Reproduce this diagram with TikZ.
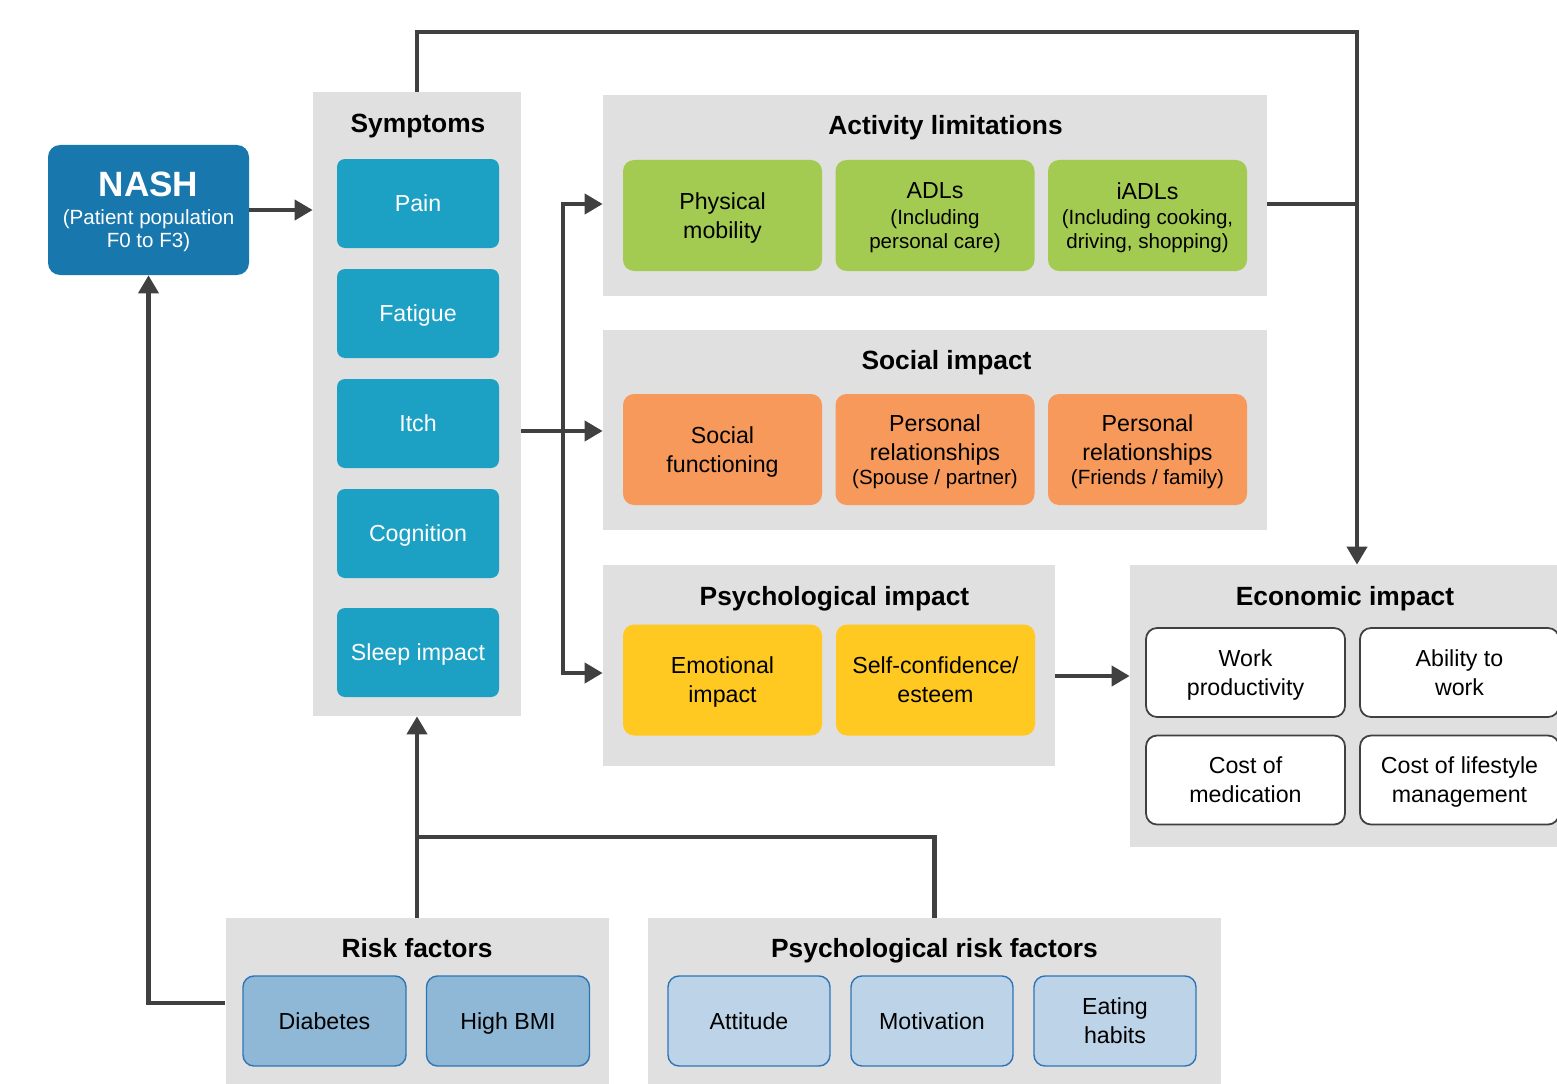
\documentclass[tikz,border=0pt]{standalone}
\usepackage{fontspec}
\setmainfont{Liberation Sans}
\usetikzlibrary{arrows.meta,positioning}

\definecolor{panelgray}{HTML}{E0E0E0}
\definecolor{nashblue}{HTML}{1877AD}
\definecolor{sympblue}{HTML}{1CA0C4}
\definecolor{actgreen}{HTML}{A3CB51}
\definecolor{socorange}{HTML}{F6995B}
\definecolor{psyyellow}{HTML}{FFC922}
\definecolor{riskblue}{HTML}{8FB8D6}
\definecolor{risklight}{HTML}{BDD4E8}
\definecolor{edgeblue}{HTML}{2E75B6}
\definecolor{arrowgray}{HTML}{404040}

\newcommand{\subtxt}[1]{{\fontsize{11.7}{14.2}\selectfont #1}}

\begin{document}
\begin{tikzpicture}[>={Triangle[length=3.6mm,width=4mm]},
    panel/.style={fill=panelgray,inner sep=0pt},
    paneltitle/.style={font=\bfseries\fontsize{15}{18}\selectfont,text depth=0pt},
    box/.style={rounded corners=0.22cm,minimum width=3.98cm,minimum height=2.22cm,
      align=center,inner sep=0pt,text depth=-1pt,font=\fontsize{13.2}{16.5}\selectfont},
    sympbox/.style={box,fill=sympblue,text=white,rounded corners=0.16cm,
      minimum width=3.24cm,minimum height=1.78cm},
    actbox/.style={box,fill=actgreen},
    socbox/.style={box,fill=socorange},
    psybox/.style={box,fill=psyyellow},
    econbox/.style={box,fill=white,draw=arrowgray,line width=1pt,minimum height=1.78cm},
    riskbox/.style={box,fill=riskblue,draw=edgeblue,line width=0.8pt,
      minimum width=3.26cm,minimum height=1.8cm},
    prbox/.style={riskbox,fill=risklight,minimum width=3.24cm},
    flow/.style={->,line width=2.3pt,draw=arrowgray},
    conn/.style={line width=2.3pt,draw=arrowgray}]
  \clip (0,0) rectangle (31.14,-21.68);

  % NASH
  \node[box,fill=nashblue,text=white,rounded corners=0.24cm,minimum width=4.02cm,
    minimum height=2.6cm] (nash) at (2.97,-4.2)
    {{\bfseries\fontsize{20}{21}\selectfont NASH}\\[-1pt]\subtxt{(Patient population}\\[-3pt]\subtxt{F0 to F3)}};

  % Symptoms
  \node[panel,minimum width=4.16cm,minimum height=12.48cm] (symppanel) at (8.34,-8.08) {};
  \node[paneltitle] (symptitle) at (8.36,-2.46) {Symptoms};
  \begin{scope}[node distance=2.2cm]
    \node[sympbox] (pain) at (8.36,-4.07) {Pain};
    \node[sympbox] (fatigue) [below of=pain] {Fatigue};
    \node[sympbox] (itch) [below of=fatigue] {Itch};
    \node[sympbox] (cogn) [below of=itch] {Cognition};
    \node[sympbox] (sleep) [below of=cogn,yshift=-0.18cm] {Sleep impact};
  \end{scope}

  % Activity limitations
  \node[panel,minimum width=13.28cm,minimum height=4.02cm] (act) at (18.7,-3.91) {};
  \node[paneltitle] (acttitle) at (18.91,-2.5) {Activity limitations};
  \begin{scope}[node distance=4.25cm]
    \node[actbox] (physmob) at (14.45,-4.31) {Physical\\mobility};
    \node[actbox] (adl) [right of=physmob] {ADLs\\[-2pt]\subtxt{(Including}\\[-3pt]\subtxt{personal care)}};
    \node[actbox] (iadl) [right of=adl] {iADLs\\[-2pt]\subtxt{(Including cooking,}\\[-3pt]\subtxt{driving, shopping)}};
  \end{scope}

  % Social impact
  \node[panel,minimum width=13.28cm,minimum height=4.0cm] (social) at (18.7,-8.6) {};
  \node[paneltitle] (soctitle) at (18.93,-7.2) {Social impact};
  \begin{scope}[node distance=4.25cm]
    \node[socbox] (socfun) at (14.45,-8.99) {Social\\functioning};
    \node[socbox] (spouse) [right of=socfun] {Personal\\relationships\\[-3pt]\subtxt{(Spouse / partner)}};
    \node[socbox] (friends) [right of=spouse] {Personal\\relationships\\[-3pt]\subtxt{(Friends / family)}};
  \end{scope}

  % Psychological impact
  \node[panel,minimum width=9.04cm,minimum height=4.02cm] (psy) at (16.58,-13.31) {};
  \node[paneltitle] (psytitle) at (16.69,-11.92) {Psychological impact};
  \node[psybox] (emo) at (14.45,-13.6) {Emotional\\impact};
  \node[psybox] (selfc) at (18.71,-13.6) {Self-confidence/\\esteem};

  % Economic impact
  \node[panel,minimum width=9.08cm,minimum height=5.64cm] (econ) at (27.14,-14.12) {};
  \node[paneltitle] (econtitle) at (26.9,-11.92) {Economic impact};
  \node[econbox] (work) at (24.91,-13.45) {Work\\productivity};
  \node[econbox] (ability) at (29.19,-13.45) {Ability to\\work};
  \node[econbox] (costmed) at (24.91,-15.6) {Cost of\\medication};
  \node[econbox] (costlife) at (29.19,-15.6) {Cost of lifestyle\\management};

  % Risk factors
  \node[panel,minimum width=7.66cm,minimum height=3.4cm] (risk) at (8.34,-20.06) {};
  \node[paneltitle] (risktitle) at (8.34,-18.96) {Risk factors};
  \node[riskbox] (diab) at (6.49,-20.42) {Diabetes};
  \node[riskbox] (bmi) at (10.16,-20.42) {High BMI};

  % Psychological risk factors
  \node[panel,minimum width=11.46cm,minimum height=3.4cm] (psrisk) at (18.69,-20.06) {};
  \node[paneltitle] (prtitle) at (18.69,-18.96) {Psychological risk factors};
  \begin{scope}[node distance=3.66cm]
    \node[prbox] (attitude) at (14.98,-20.42) {Attitude};
    \node[prbox] (motiv) [right of=attitude] {Motivation};
    \node[prbox] (eating) [right of=motiv] {Eating\\habits};
  \end{scope}

  % connectors
  \coordinate (topbend) at (27.14,-0.64);
  \coordinate (split) at (11.26,-8.62);
  \coordinate (join) at (8.34,-16.74);

  \draw[flow] (nash.east) -- (nash.east -| symppanel.west);
  \draw[flow] (symppanel.north) |- (topbend) -- (econ.north);
  \draw[conn] ([yshift=-0.17cm]act.east) -- ([yshift=-0.17cm]act.east -| topbend);
  \draw[flow] (symppanel.east |- split) -- (social.west |- split);
  \draw[flow] (split) |- ([yshift=-0.17cm]act.west);
  \draw[flow] (split) |- ([yshift=-0.15cm]psy.west);
  \draw[flow] ([yshift=-0.21cm]psy.east) -- ([yshift=-0.21cm]psy.east -| econ.west);
  \draw[flow] (risk.north) -- (symppanel.south);
  \draw[conn] (psrisk.north) |- (join);
  \draw[flow] (risk.west) -| (nash.south);
\end{tikzpicture}
\end{document}
